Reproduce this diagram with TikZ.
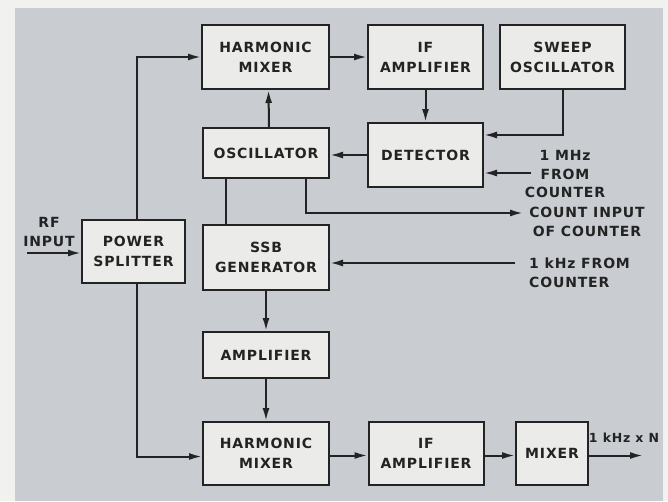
\documentclass[tikz,border=0pt]{standalone}
\usepackage{fontspec}
\setmainfont{DejaVu Sans}[BoldFont={DejaVu Sans Bold},LetterSpace=6]
\usetikzlibrary{arrows.meta}
\definecolor{outside}{RGB}{241,241,240}
\definecolor{panel}{RGB}{201,205,210}
\definecolor{boxfill}{RGB}{235,235,233}
\definecolor{ink}{RGB}{35,35,35}
\begin{document}
\begin{tikzpicture}[x=1pt,y=-1pt,
  box/.style={draw=ink, line width=2pt, fill=boxfill, minimum width=126pt,
    minimum height=64pt, align=center, inner sep=0pt, text=ink,
    font=\fontsize{14}{20}\selectfont\bfseries},
  lbl/.style={align=center, inner sep=0pt, text=ink, font=\fontsize{14}{18.5}\selectfont\bfseries},
  conn/.style={line width=2pt, draw=ink},
  arr/.style={conn, -{Latex[length=13pt,width=7pt]}}]
\fill[outside] (0,0) rectangle (668,501);
\fill[panel] (15,8) rectangle (663,501);
\useasboundingbox (0,0) rectangle (668,501);

% boxes
\node[box, minimum width=127pt] (hm1) at (265.5,57) {HARMONIC\\MIXER};
\node[box, minimum width=115pt] (if1) at (425.5,57) {IF\\AMPLIFIER};
\node[box, minimum width=125pt] (sweep) at (562.5,57) {SWEEP\\OSCILLATOR};
\node[box, minimum height=50pt] (osc) at (266,153) {OSCILLATOR};
\node[box, minimum width=115pt] (det) at (425.5,155) {DETECTOR};
\node[box, minimum width=103pt, minimum height=63pt] (ps) at (133.5,251.5) {POWER\\SPLITTER};
\node[box, minimum height=65pt] (ssb) at (266,257.5) {SSB\\GENERATOR};
\node[box, minimum height=46pt] (amp) at (266,355) {AMPLIFIER};
\node[box, minimum height=63pt] (hm2) at (266,453.5) {HARMONIC\\MIXER};
\node[box, minimum width=115pt, minimum height=63pt] (if2) at (426,453.5) {IF\\AMPLIFIER};
\node[box, minimum width=72pt, minimum height=63pt] (mix) at (552,453.5) {MIXER};

% labels
\node[lbl] (rfin) at (49,232) {RF\\INPUT};
\node[lbl] (mhz) at (565,174) {1 MHz\\FROM\\COUNTER};
\node[lbl] (cnt) at (587,222) {COUNT INPUT\\OF COUNTER};
\node[lbl, align=left, anchor=west] (khz) at (529,273) {1 kHz FROM\\COUNTER};
\node[lbl, font=\fontsize{12.5}{15}\selectfont\bfseries] (kn) at (624,438) {1 kHz x N};

% helper coordinates
\coordinate (rfs) at (27,253);
\coordinate (y135) at (0,135);
\coordinate (mhzs) at (531,173);
\coordinate (xa) at (226,0);
\coordinate (xb) at (306,0);
\coordinate (cnte) at (523,213);
\coordinate (khzs) at (515,263);
\coordinate (oute) at (643,0);

% connectors
\draw[arr] (rfs) -- (ps.west |- rfs);
\draw[arr] ([xshift=3pt]ps.north) |- (hm1.west);
\draw[arr] (hm1.east) -- (if1.west);
\draw[arr] (if1.south) -- (det.north);
\draw[arr] (sweep.south) |- (det.east |- y135);
\draw[arr] (mhzs) -- (det.east |- mhzs);
\draw[arr] (det.west) -- (det.west -| osc.east);
\draw[arr] ([xshift=3pt]osc.north) -- ([xshift=3pt]hm1.south);
\draw[conn] (osc.south -| xa) -- (ssb.north -| xa);
\draw[arr] (osc.south -| xb) |- (cnte);
\draw[arr] (khzs) -- (ssb.east |- khzs);
\draw[arr] (ssb.south) -- (amp.north);
\draw[arr] (amp.south) -- (hm2.north);
\draw[arr] ([xshift=3pt]ps.south) |- ([yshift=-3pt]hm2.west);
\draw[arr] ([yshift=-2pt]hm2.east) -- ([yshift=-2pt]if2.west);
\draw[arr] ([yshift=-2pt]if2.east) -- ([yshift=-2pt]mix.west);
\draw[arr] ([yshift=-2pt]mix.east) -- ([yshift=-2pt]mix.east -| oute);
\end{tikzpicture}
\end{document}
